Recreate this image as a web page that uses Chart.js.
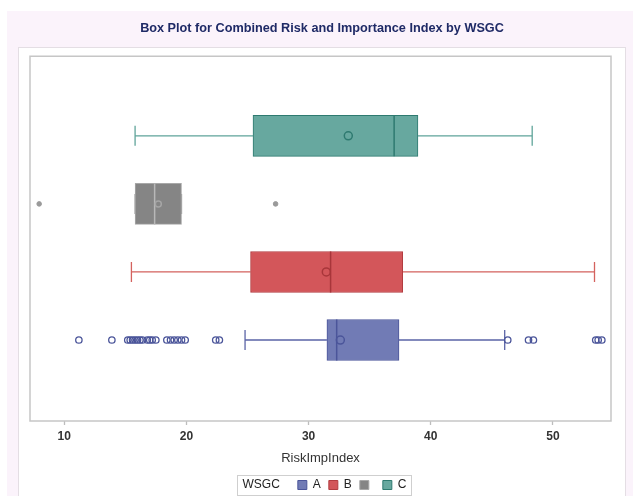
<!DOCTYPE html>
<html><head><meta charset="utf-8">
<script src="https://cdn.jsdelivr.net/npm/chart.js@4"></script>
<style>
html,body{margin:0;padding:0;background:#fff;width:633px;height:496px;overflow:hidden;}
#bg{position:absolute;left:7px;top:11px;width:626px;height:485px;background:#fbf3fb;}
#panel{position:absolute;left:18px;top:47px;width:606px;height:470px;background:#fff;border:1px solid #e4dee4;}
#wrap{position:absolute;left:7px;top:11px;width:626px;height:500px;}
</style></head><body>
<div id="bg"></div><div id="panel"></div>
<div id="wrap"><canvas id="c" width="626" height="500"></canvas></div>
<script>
// ---- data ----
const groups = ['A', 'B', '', 'C'];
const q1 = [31.5, 25.25, 15.8, 25.45];
const median = [32.3, 31.8, 17.4, 37.0];
const q3 = [37.4, 37.7, 19.6, 38.95];
const mean = [32.6, 31.45, 17.7, 33.25];
const whiskerLow = [24.8, 15.5, 15.8, 15.8];
const whiskerHigh = [46.05, 53.4, 19.6, 48.3];
const outliersA = [11.2, 13.9, 15.2, 15.4, 15.6, 15.8, 16.0, 16.2, 16.4, 16.8, 17.0, 17.2, 17.5,
  18.4, 18.7, 19.0, 19.3, 19.6, 19.9, 22.4, 22.7, 46.3, 48.0, 48.4, 53.5, 53.7, 54.0];
const outliersGray = [7.95, 27.3];
const xTicks = [10, 20, 30, 40, 50];
const xMin = 7.2, xMax = 54.75;
const titleText = 'Box Plot for Combined Risk and Importance Index by WSGC';
const xTitle = 'RiskImpIndex';
const legendTitle = 'WSGC';

// ---- styles ----
const fillColors = ['#717bb5', '#d3565a', '#858585', '#67a89f'];
const edgeColors = ['#4b559a', '#b23c40', '#a8a8a8', '#2e7a70'];
const whiskerColors = ['#5b64a6', '#d4625e', '#9a9a9a', '#5fa49a'];
const medianColors = ['#4b559a', '#a8363a', '#b8b8b8', '#2e7a70'];
const meanColors = ['#4b559a', '#a8363a', '#a5a5a5', '#2e7a70'];
const FONT = "'Liberation Sans', Arial, sans-serif";

const pos = groups.map((g, i) => i + 1);
const idxA = groups.indexOf('A');
const idxGray = groups.indexOf('');

const whiskerSets = groups.map((g, i) => ({
  type: 'line',
  label: 'whisker' + i,
  data: [
    {x: whiskerLow[i], y: pos[i]}, {x: q1[i], y: pos[i]}, {x: null, y: pos[i]},
    {x: q3[i], y: pos[i]}, {x: whiskerHigh[i], y: pos[i]}
  ],
  borderColor: whiskerColors[i],
  borderWidth: 1.3,
  pointStyle: 'line',
  pointRotation: 90,
  pointRadius: [10, 0, 0, 0, 10],
  pointBorderColor: whiskerColors[i],
  pointBackgroundColor: whiskerColors[i],
  pointBorderWidth: 1.3,
  spanGaps: false,
  order: 3
}));

const framePlugin = {
  id: 'frame',
  beforeDatasetsDraw(chart) {
    const {ctx, chartArea: a} = chart;
    ctx.save();
    ctx.strokeStyle = '#c6c6c6';
    ctx.lineWidth = 1.5;
    ctx.strokeRect(a.left, a.top, a.right - a.left, a.bottom - a.top);
    ctx.restore();
  },
  afterDraw(chart) {
    const lg = chart.legend;
    if (!lg || !lg.legendHitBoxes || !lg.legendHitBoxes.length) return;
    const hb = lg.legendHitBoxes;
    const items = lg.legendItems;
    const first = hb[0], last = hb[hb.length - 1];
    const bw = lg.options.labels.boxWidth;
    const fs = lg.options.labels.font.size;
    const {ctx} = chart;
    ctx.save();
    ctx.font = fs + 'px ' + FONT;
    const lastW = ctx.measureText(items[items.length - 1].text.trim()).width;
    const left = first.left + bw + fs / 2 - 5;
    const right = last.left + bw + fs / 2 + lastW + 5;
    ctx.strokeStyle = '#cfcfcf';
    ctx.lineWidth = 1;
    ctx.strokeRect(Math.round(left) + 0.5, Math.round(first.top - 4) + 0.5, Math.round(right - left), Math.round(first.height + 8));
    ctx.restore();
  }
};

new Chart(document.getElementById('c'), {
  type: 'bar',
  data: {
    datasets: [
      {
        type: 'bar',
        label: 'box',
        data: groups.map((g, i) => ({y: pos[i], x: [q1[i], q3[i]]})),
        backgroundColor: fillColors,
        borderColor: edgeColors,
        borderWidth: 1,
        borderSkipped: false,
        barThickness: 41,
        order: 2
      },
      ...whiskerSets,
      {
        type: 'line', label: 'median', showLine: false,
        data: groups.map((g, i) => ({x: median[i], y: pos[i]})),
        pointStyle: 'line', pointRotation: 90, pointRadius: 20.5,
        pointBorderColor: medianColors, pointBackgroundColor: medianColors, pointBorderWidth: 1.5,
        order: 1
      },
      {
        type: 'line', label: 'mean', showLine: false,
        data: groups.map((g, i) => ({x: mean[i], y: pos[i]})),
        pointStyle: 'circle', pointRadius: [4, 4, 3, 4],
        pointBorderColor: meanColors, pointBackgroundColor: 'rgba(0,0,0,0)', pointBorderWidth: 1.5,
        order: 0
      },
      {
        type: 'line', label: 'outliersA', showLine: false,
        data: outliersA.map(v => ({x: v, y: pos[idxA]})),
        pointStyle: 'circle', pointRadius: 3.2,
        pointBorderColor: '#4b559a', pointBackgroundColor: 'rgba(0,0,0,0)', pointBorderWidth: 1.3,
        order: 0
      },
      {
        type: 'line', label: 'outliersGray', showLine: false,
        data: outliersGray.map(v => ({x: v, y: pos[idxGray]})),
        pointStyle: 'circle', pointRadius: 2.3,
        pointBorderColor: '#9a9a9a', pointBackgroundColor: '#9a9a9a', pointBorderWidth: 1,
        order: 0
      }
    ]
  },
  options: {
    indexAxis: 'y',
    responsive: false,
    animation: false,
    events: [],
    layout: {padding: {left: 23, right: 19, top: 0, bottom: 10}},
    scales: {
      x: {
        type: 'linear', min: xMin, max: xMax,
        afterBuildTicks: s => { s.ticks = xTicks.map(v => ({value: v})); },
        grid: {drawOnChartArea: false, drawTicks: true, tickLength: 4, tickColor: '#bdbdbd', tickWidth: 1.3},
        border: {display: false},
        ticks: {padding: 4, color: '#333', font: {family: FONT, size: 12, weight: 'bold'}},
        title: {display: true, text: xTitle, color: '#333', font: {family: FONT, size: 13}, padding: {top: 3, bottom: 5}}
      },
      y: {type: 'linear', min: -0.19, max: 5.17, display: false, offset: false}
    },
    plugins: {
      title: {
        display: true, text: titleText, color: '#1f2a66',
        font: {family: FONT, size: 12.7, weight: 'bold'}, padding: {top: 10, bottom: 20}
      },
      legend: {
        position: 'bottom',
        onClick: null,
        labels: {
          boxWidth: 9, boxHeight: 9, padding: 8, color: '#222',
          font: {family: FONT, size: 12},
          generateLabels: () => [
            {text: legendTitle + '   ', fillStyle: 'rgba(0,0,0,0)', strokeStyle: 'rgba(0,0,0,0)', lineWidth: 0, hidden: false, fontColor: '#222'},
            ...groups.map((g, i) => ({
              text: i === groups.length - 1 ? g + '   ' : g,
              fillStyle: fillColors[i], strokeStyle: edgeColors[i], lineWidth: 1, hidden: false, fontColor: '#222'
            }))
          ]
        }
      },
      tooltip: {enabled: false}
    }
  },
  plugins: [framePlugin]
});
</script>
</body></html>
